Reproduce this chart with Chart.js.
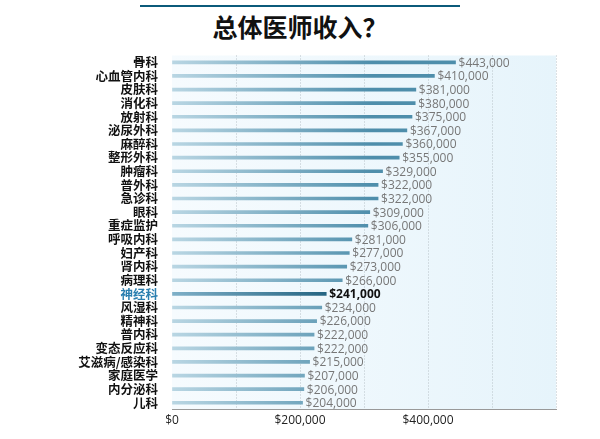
<!DOCTYPE html>
<html>
<head>
<meta charset="utf-8">
<script src="https://cdn.jsdelivr.net/npm/chart.js@4"></script>
<style>
body { margin: 0; background: #fff; font-family: "Noto Sans CJK SC", sans-serif; }
#wrap { position: relative; width: 600px; height: 439px; }
#rule { position: absolute; left: 140px; top: 5px; width: 320px; height: 2px; background: #0b5a7a; }
#title { position: absolute; left: 0; top: 8px; width: 600px; text-align: center; font-size: 25px; font-weight: bold; color: #111; }
#box { position: absolute; left: 0; top: 42px; width: 600px; height: 390px; }
</style>
</head>
<body>
<div id="wrap">
  <div id="rule"></div>
  <div id="title">总体医师收入？</div>
  <div id="box"><canvas id="chart"></canvas></div>
</div>
<script>
// Categories and incomes (USD)
const specialties = ['骨科', '心血管内科', '皮肤科', '消化科', '放射科', '泌尿外科', '麻醉科', '整形外科', '肿瘤科', '普外科', '急诊科', '眼科', '重症监护', '呼吸内科', '妇产科', '肾内科', '病理科', '神经科', '风湿科', '精神科', '普内科', '变态反应科', '艾滋病/感染科', '家庭医学', '内分泌科', '儿科'];
const incomes = [443000, 410000, 381000, 380000, 375000, 367000, 360000, 355000, 329000, 322000, 322000, 309000, 306000, 281000, 277000, 273000, 266000, 241000, 234000, 226000, 222000, 222000, 215000, 207000, 206000, 204000];
const highlight = '神经科';
const tickLabels = { 0: '$0', 200000: '$200,000', 400000: '$400,000' };

const fmt = v => '$' + v.toLocaleString('en-US');

function barGradient(ctx, dark) {
    const area = ctx.chart.chartArea;
    if (!area) return '#4a8aa8';
    const g = ctx.chart.ctx.createLinearGradient(area.left, 0, area.left + 200, 0);
    g.addColorStop(0, dark ? '#7fb0c8' : '#b9d6e3');
    g.addColorStop(1, dark ? '#0b4f6e' : '#4e8eab');
    return g;
}

// light blue plot background
const bgPlugin = {
    id: 'bg',
    beforeDraw(chart) {
        const a = chart.chartArea, c = chart.ctx;
        const g = c.createLinearGradient(a.left, 0, a.right, 0);
        g.addColorStop(0, '#f6fbfe');
        g.addColorStop(1, '#e6f4fb');
        c.save();
        c.fillStyle = g;
        c.fillRect(a.left, a.top, a.right - a.left, a.bottom - a.top);
        c.restore();
    }
};

// value labels at bar ends
const labelPlugin = {
    id: 'vals',
    afterDatasetsDraw(chart) {
        const c = chart.ctx;
        const meta = chart.getDatasetMeta(0);
        c.save();
        c.textBaseline = 'middle';
        meta.data.forEach((bar, i) => {
            const hl = specialties[i] === highlight;
            c.fillStyle = hl ? '#111' : '#777';
            c.font = (hl ? 'bold ' : '') + '12px "Open Sans", sans-serif';
            c.fillText(fmt(incomes[i]), bar.x + 3, bar.y + 1);
        });
        c.restore();
    }
};

new Chart(document.getElementById('chart'), {
    type: 'bar',
    data: {
        labels: specialties,
        datasets: [{
            data: incomes,
            backgroundColor: ctx => barGradient(ctx, specialties[ctx.dataIndex] === highlight),
            barThickness: 3,
            borderWidth: 0
        }]
    },
    options: {
        indexAxis: 'y',
        responsive: true,
        maintainAspectRatio: false,
        animation: false,
        layout: { padding: { top: 1, right: 44, bottom: 0, left: 0 } },
        plugins: { legend: { display: false }, tooltip: { enabled: false } },
        scales: {
            x: {
                min: 0, max: 600000,
                ticks: {
                    stepSize: 100000,
                    autoSkip: false,
                    maxRotation: 0,
                    padding: 4,
                    color: '#222',
                    font: { size: 12, family: '"Open Sans", sans-serif' },
                    callback: v => tickLabels[v] !== undefined ? tickLabels[v] : ''
                },
                grid: { color: ctx => ctx.tick && ctx.tick.value === 0 ? 'rgba(0,0,0,0)' : '#b8c2c8', tickLength: 0, drawTicks: false },
                border: { display: true, color: '#999', width: 1, dash: [1, 2] }
            },
            y: {
                afterFit: s => { s.width = 172; },
                ticks: {
                    autoSkip: false,
                    padding: 6,
                    color: ctx => specialties[ctx.index] === highlight ? '#2a7fb0' : '#111',
                    font: { size: 12.5, weight: 'bold', family: '"Noto Sans CJK SC", sans-serif' }
                },
                grid: { display: false },
                border: { display: false }
            }
        }
    },
    plugins: [bgPlugin, labelPlugin]
});
</script>
</body>
</html>
